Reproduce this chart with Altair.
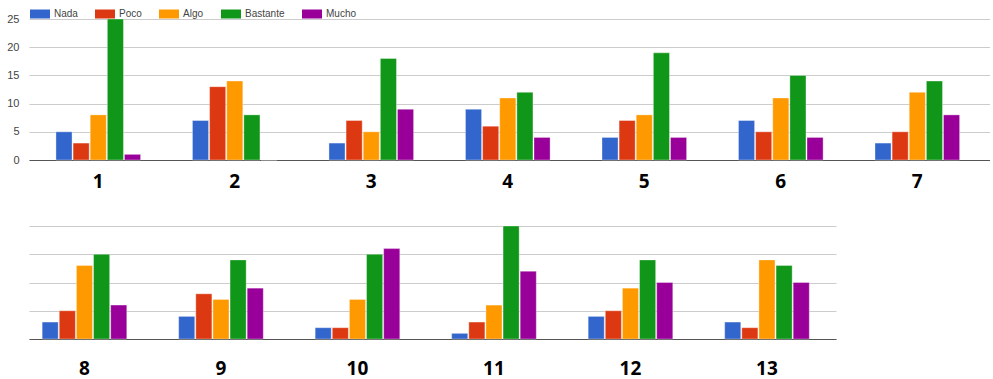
import altair as alt
import pandas as pd

series = ["Nada", "Poco", "Algo", "Bastante", "Mucho"]
colors = ["#3366cc", "#dc3912", "#ff9900", "#109618", "#990099"]
groups_top = ["1", "2", "3", "4", "5", "6", "7"]
groups_bottom = ["8", "9", "10", "11", "12", "13"]

nada = [5, 7, 3, 9, 4, 7, 3, 3, 4, 2, 1, 4, 3]
poco = [3, 13, 7, 6, 7, 5, 5, 5, 8, 2, 3, 5, 2]
algo = [8, 14, 5, 11, 8, 11, 12, 13, 7, 7, 6, 9, 14]
bastante = [25, 8, 18, 12, 19, 15, 14, 15, 14, 15, 20, 14, 13]
mucho = [1, 0, 9, 4, 4, 4, 8, 6, 9, 16, 12, 10, 10]

all_groups = groups_top + groups_bottom
vals = {"Nada": nada, "Poco": poco, "Algo": algo, "Bastante": bastante, "Mucho": mucho}
rows = []
for i, g in enumerate(all_groups):
    for s in series:
        rows.append({"group": g, "series": s, "value": vals[s][i],
                     "panel": "top" if g in groups_top else "bottom"})
df = pd.DataFrame(rows)

legend_top = alt.Legend(
    orient="none", legendX=1, legendY=-15, direction="horizontal", title=None,
    symbolType="M-1,-0.45L1,-0.45L1,0.45L-1,0.45Z", symbolSize=400,
    symbolStrokeWidth=0, symbolOpacity=1,
    labelFontSize=10, labelFont="Liberation Sans", labelColor="#444",
    labelOffset=4, columnPadding=17,
)


def panel(data, groups, width, height, ymax, show_labels, label_pad, legend, po, align):
    return alt.Chart(data).mark_bar(stroke="white", strokeOpacity=0.35, strokeWidth=1).encode(
        x=alt.X("group:N", sort=groups,
                scale=alt.Scale(paddingInner=0.38, paddingOuter=po, align=align),
                axis=alt.Axis(title=None, labelAngle=0, ticks=False, tickSize=0,
                              labelPadding=label_pad, labelFontSize=19,
                              labelFontWeight="bold", labelColor="#000",
                              labelFont="Open Sans", domainColor="#555",
                              domainWidth=1, grid=False)),
        xOffset=alt.XOffset("series:N", sort=series, scale=alt.Scale(paddingInner=0.06)),
        y=alt.Y("value:Q", scale=alt.Scale(domain=[0, ymax], nice=False),
                axis=alt.Axis(title=None, values=list(range(0, ymax + 1, 5)),
                              labels=show_labels, ticks=False, tickSize=0, domain=False,
                              gridColor="#cccccc", labelFontSize=11, labelColor="#444",
                              labelFont="Liberation Sans", labelPadding=10,
                              minExtent=24, maxExtent=24)),
        color=alt.Color("series:N", sort=series,
                        scale=alt.Scale(domain=series, range=colors), legend=legend),
    ).properties(width=width, height=height)


top = panel(df[df.panel == "top"], groups_top, 961, 141, 25, True, 12, legend_top, 0.21, 0.47)
bottom = panel(df[df.panel == "bottom"], groups_bottom, 807, 113, 20, False, 20, None, 0.146, 0.33)

chart = alt.vconcat(top, bottom, spacing=34).resolve_scale(
    color="independent", x="independent", xOffset="independent", y="independent"
).properties(
    padding={"left": 5, "top": 4, "right": 0, "bottom": 0}
).configure_view(stroke=None)

chart.save("out.html", embed_options={"renderer": "svg", "actions": False})
